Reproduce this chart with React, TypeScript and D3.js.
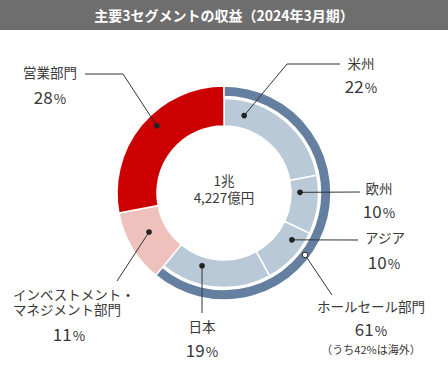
import React from "react";
import * as d3 from "d3";

const TITLE = "主要3セグメントの収益（2024年3月期）";
const CENTER_LINES = ["1兆", "4,227億円"];

// Segments clockwise from 12 o'clock
const segNames = ["米州", "欧州", "アジア", "日本", "インベストメント・マネジメント部門", "営業部門"];
const segValues = [22, 10, 10, 19, 11, 28];
const segGroup = ["wholesale", "wholesale", "wholesale", "wholesale", "im", "retail"];

const groupNames = ["ホールセール部門", "インベストメント・マネジメント部門", "営業部門"];
const groupKeys = ["wholesale", "im", "retail"];
const groupValues = [61, 11, 28];
const wholesaleNote = "（うち42%は海外）";

const W = 448;
const H = 373;
const cx = 224;
const cy = 193;
const rInner = 67;
const rSubOuter = 94.5;
const rRingInner = 96.5;
const rOuter = 107;

const COLORS: Record<string, string> = {
  wholesale: "#b9c9d7",
  ring: "#647f9f",
  im: "#eec1bc",
  retail: "#cc0000",
};

const TEXT = "#383838";
const FONT = "'Noto Sans CJK JP', 'Noto Sans', sans-serif";

type Ann = {
  lines: string[];
  pct: number;
  dotA: number;
  dotR: number;
  open?: boolean;
  path: [number, number][];
  tx: number;
  ty: number;
  anchor: "start" | "middle" | "end";
  px: number;
  pdy: number;
  note?: string;
};

const rad = (a: number) => (a * Math.PI) / 180;

export default function App() {
  const pie = d3
    .pie<number>()
    .sort(null)
    .value((d) => d);
  const segArcs = pie(segValues);
  const groupArcs = pie(groupValues);

  const arcSub = d3.arc<d3.PieArcDatum<number>>().innerRadius(rInner).outerRadius(rSubOuter);
  const arcFull = d3.arc<d3.PieArcDatum<number>>().innerRadius(rInner).outerRadius(rOuter);
  const arcRing = d3.arc<d3.PieArcDatum<number>>().innerRadius(rRingInner).outerRadius(rOuter);

  const pt = (a: number, r: number): [number, number] => {
    const [x, y] = d3.pointRadial(rad(a), r);
    return [cx + x, cy + y];
  };

  const anns: Ann[] = [
    { lines: [segNames[0]], pct: segValues[0], dotA: 14.6, dotR: 80, path: [[287, 64], [340, 64]], tx: 361, ty: 69, anchor: "middle", px: 361, pdy: 24 },
    { lines: [segNames[1]], pct: segValues[1], dotA: 89.5, dotR: 76, path: [[360, 192]], tx: 379, ty: 194, anchor: "middle", px: 379, pdy: 24 },
    { lines: [segNames[2]], pct: segValues[2], dotA: 124.6, dotR: 82.5, path: [[358, 240]], tx: 385, ty: 243, anchor: "middle", px: 384, pdy: 26 },
    { lines: [groupNames[0]], pct: groupValues[0], dotA: 127.4, dotR: 102, open: true, path: [[332, 295]], tx: 371, ty: 312, anchor: "middle", px: 371, pdy: 24, note: wholesaleNote },
    { lines: [segNames[3]], pct: segValues[3], dotA: 196.8, dotR: 76, path: [[202, 313]], tx: 202, ty: 332, anchor: "middle", px: 202, pdy: 25 },
    { lines: ["インベストメント・", "マネジメント部門"], pct: segValues[4], dotA: 242.5, dotR: 84.5, path: [[117, 281]], tx: 13, ty: 300, anchor: "start", px: 69, pdy: 26 },
    { lines: [segNames[5]], pct: segValues[5], dotA: 315, dotR: 95, path: [[123, 74], [85, 74]], tx: 50, ty: 78, anchor: "middle", px: 50, pdy: 26 },
  ];

  return (
    <svg width={W} height={H} style={{ position: "absolute", left: 0, top: 0, background: "#fff" }} fontFamily={FONT}>
      <rect x={0} y={0} width={W} height={30} fill="#6e6e6e" />
      <text x={224} y={20.5} textAnchor="middle" fill="#fff" fontSize={14} fontWeight="bold">
        {TITLE}
      </text>

      <g transform={`translate(${cx},${cy})`}>
        {segArcs.map((a, i) => {
          const g = segGroup[i];
          const d = g === "wholesale" ? arcSub(a) : arcFull(a);
          return <path key={i} d={d || ""} fill={COLORS[g]} stroke="#fff" strokeWidth={1.5} />;
        })}
        {groupArcs
          .filter((_, i) => groupKeys[i] === "wholesale")
          .map((a, i) => (
            <path key={"r" + i} d={arcRing(a) || ""} fill={COLORS.ring} stroke="#fff" strokeWidth={1.5} />
          ))}
      </g>

      <text textAnchor="middle" fill={TEXT} fontSize={13.5}>
        {CENTER_LINES.map((l, j) => (
          <tspan key={j} x={cx} y={cy - 7 + j * 17}>
            {l}
          </tspan>
        ))}
      </text>

      {anns.map((a, i) => {
        const dot = pt(a.dotA, a.dotR);
        const pts = [dot, ...a.path];
        const line = d3.line()(pts as [number, number][]) || "";
        const lastBase = a.ty + (a.lines.length - 1) * 15;
        return (
          <g key={i}>
            <path d={line} fill="none" stroke="#333" strokeWidth={1} />
            <circle cx={dot[0]} cy={dot[1]} r={2.8} fill={a.open ? "#fff" : "#222"} stroke="#222" strokeWidth={a.open ? 1 : 0} />
            <text textAnchor={a.anchor} fill={TEXT} fontSize={13.5}>
              {a.lines.map((l, j) => (
                <tspan key={j} x={a.tx} y={a.ty + j * 15}>
                  {l}
                </tspan>
              ))}
            </text>
            <text x={a.px} y={lastBase + a.pdy} textAnchor="middle" fill={TEXT} fontSize={17}>
              {a.pct}
              <tspan fontSize={13.5} dx={1}>%</tspan>
            </text>
            {a.note && (
              <text x={a.px} y={lastBase + 42} textAnchor="middle" fill={TEXT} fontSize={11}>
                {a.note}
              </text>
            )}
          </g>
        );
      })}
    </svg>
  );
}
